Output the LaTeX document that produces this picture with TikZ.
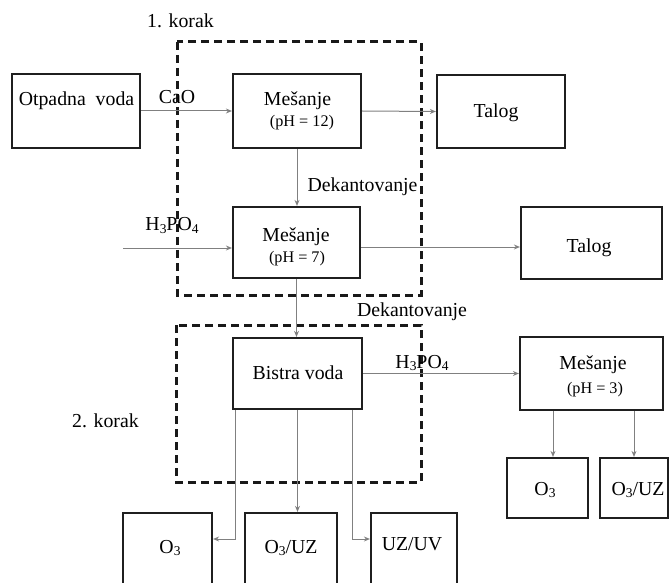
\documentclass[tikz,border=0pt]{standalone}
\usepackage{fontspec}
\setmainfont{Liberation Serif}
\usetikzlibrary{arrows.meta,calc}
\newcommand\lowsub[1]{\raisebox{-0.25ex}{\scalebox{0.68}{#1}}}
\begin{document}
\begin{tikzpicture}[x=1pt,y=-1pt,
  box/.style={draw=black!88,line width=2.2pt,rectangle,inner sep=0pt},
  arr/.style={draw=black!50,line width=1pt,-{Stealth[length=6pt,width=5pt]}},
  stepframe/.style={draw=black!90,line width=3pt,dash pattern=on 8pt off 5pt},
  txt/.style={anchor=base,inner sep=0pt,font=\fontsize{19.8}{22}\selectfont},
  small/.style={anchor=base,inner sep=0pt,font=\fontsize{16.2}{18}\selectfont}]
\clip (0,0) rectangle (670,583);
\fill[white] (0,0) rectangle (670,583);
% dashed step frames
\draw[stepframe] (177,42) rectangle (421,295);
\draw[stepframe] (176,325) rectangle (421,482);
% boxes
\node[box,minimum width=128pt,minimum height=74pt] (otp) at (76,111) {};
\node[box,minimum width=128pt,minimum height=74pt] (mes1) at (297,111) {};
\node[box,minimum width=128pt,minimum height=73pt] (tal1) at (501,111.5) {};
\node[box,minimum width=127pt,minimum height=71pt] (mes2) at (296.5,242.5) {};
\node[box,minimum width=141pt,minimum height=72pt] (tal2) at (591.5,243) {};
\node[box,minimum width=129pt,minimum height=71pt] (bis) at (297.5,373.5) {};
\node[box,minimum width=143pt,minimum height=73pt] (mes3) at (591.5,373.5) {};
\node[box,minimum width=81pt,minimum height=60pt] (o3r) at (547.5,488) {};
\node[box,minimum width=68pt,minimum height=60pt] (o3uzr) at (634,488) {};
\node[box,minimum width=89pt,minimum height=87pt] (o3l) at (167.5,556.5) {};
\node[box,minimum width=92pt,minimum height=87pt] (o3uzl) at (291,556.5) {};
\node[box,minimum width=86pt,minimum height=87pt] (uzuv) at (414,556.5) {};
% free ends
\coordinate (h1) at (123,248);
\coordinate (yb) at (0,539);
\coordinate (m3a) at (553,0);
\coordinate (m3b) at (634,0);
\coordinate (bl) at (235,0);
\coordinate (br) at (352,0);
% connectors
\draw[arr] (otp.east) -- (mes1.west);
\draw[arr] (mes1.east) -- (tal1.west);
\draw[arr] (mes1.south) -- (mes1.south |- mes2.north);
\draw[arr] (h1) -- (h1 -| mes2.west);
\draw[arr] ([yshift=-4.5pt]mes2.east) -- ([yshift=-4.5pt]mes2.east -| tal2.west);
\draw[arr] (mes2.south) -- (mes2.south |- bis.north);
\draw[arr] (bis.east) -- (mes3.west);
\draw[arr] (m3a |- mes3.south) -- (m3a |- o3r.north);
\draw[arr] (m3b |- mes3.south) -- (m3b |- o3uzr.north);
\draw[arr] (bl |- bis.south) |- (o3l.east |- yb);
\draw[arr] (bis.south) -- (bis.south |- o3uzl.north);
\draw[arr] (br |- bis.south) |- (uzuv.west |- yb);
% texts
\node[txt] (k1) at (180.5,28) {1. korak};
\node[txt] (k2) at (105.5,427) {2. korak};
\node[txt] (totp) at (76.5,106) {Otpadna\ \ voda};
\node[txt] (cao) at (177,104) {CaO};
\node[txt] (tm1) at (297.5,106) {Mešanje};
\node[small] (tp1) at (302,127) {(pH = 12)};
\node[txt] (tt1) at (496,118) {Talog};
\node[txt] (dek1) at (362.5,192) {Dekantovanje};
\node[txt] (hp1) at (172,231) {H\lowsub{3}PO\lowsub{4}};
\node[txt] (tm2) at (296,242) {Mešanje};
\node[small] (tp2) at (297,262) {(pH = 7)};
\node[txt] (tt2) at (589,252) {Talog};
\node[txt] (dek2) at (412,316) {Dekantovanje};
\node[txt] (tbis) at (298,379) {Bistra voda};
\node[txt] (hp2) at (422,368) {H\lowsub{3}PO\lowsub{4}};
\node[txt] (tm3) at (593,369) {Mešanje};
\node[small] (tp3) at (595,393) {(pH = 3)};
\node[txt] (to3r) at (545,495) {O\lowsub{3}};
\node[txt] (to3uzr) at (638,495) {O\lowsub{3}/UZ};
\node[txt] (to3l) at (170,553) {O\lowsub{3}};
\node[txt] (to3uzl) at (291,553) {O\lowsub{3}/UZ};
\node[txt] (tuzuv) at (412,550) {UZ/UV};
\end{tikzpicture}
\end{document}
